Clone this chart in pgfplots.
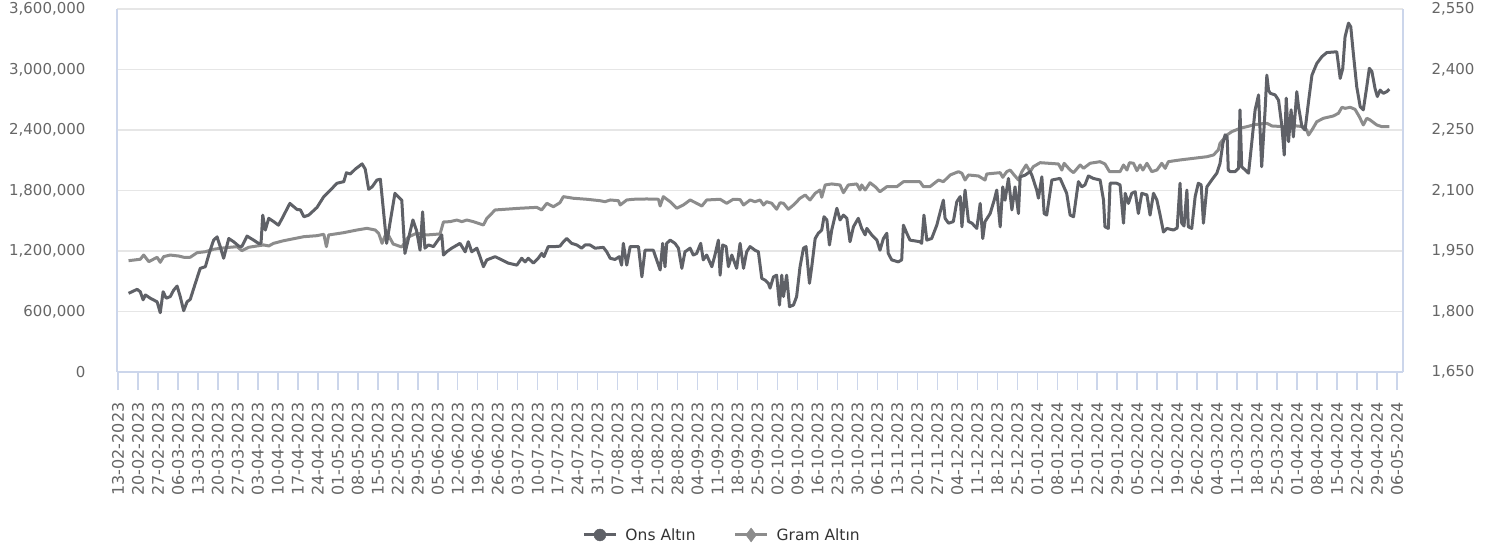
\documentclass[border=0pt]{standalone}
\usepackage{fontspec}
\setmainfont{DejaVu Sans}
\usepackage{pgfplots}
\pgfplotsset{compat=1.18}
\usepackage{pgfplotstable}
\definecolor{onsc}{RGB}{95,97,103}
\definecolor{gramc}{RGB}{140,140,140}
\definecolor{gridc}{RGB}{230,230,230}
\definecolor{axisc}{RGB}{204,214,235}
\definecolor{labc}{RGB}{102,102,102}
\definecolor{legc}{RGB}{51,51,51}

\pgfplotstableread{
day gram
3.7 1104000
7.8 1118000
9.0 1160000
10.8 1094000
13.7 1138000
14.8 1088000
16.0 1144000
18.3 1160000
21.3 1150000
23.0 1138000
25.3 1138000
27.7 1183000
30.6 1193000
33.5 1217000
35.8 1227000
39.3 1237000
41.7 1243000
43.4 1203000
45.8 1237000
51.0 1260000
52.8 1250000
54.5 1276000
58.0 1302000
61.6 1322000
65.1 1342000
69.7 1352000
72.1 1366000
73.0 1243000
73.8 1359000
79.1 1382000
83.7 1408000
87.2 1425000
90.1 1408000
91.3 1376000
92.5 1276000
94.1 1388000
96.4 1269000
99.4 1240000
101.7 1339000
104.6 1376000
108.1 1359000
112.8 1369000
114.0 1488000
116.3 1491000
118.7 1507000
120.4 1491000
122.2 1507000
124.5 1491000
128.0 1458000
129.2 1524000
132.1 1607000
140.8 1624000
146.7 1633000
148.4 1607000
150.2 1673000
152.5 1639000
154.8 1679000
156.0 1739000
159.5 1723000
164.2 1713000
168.8 1699000
170.6 1689000
172.4 1706000
175.3 1699000
175.9 1656000
178.2 1706000
180.5 1713000
185.2 1716000
189.3 1713000
189.9 1646000
191.0 1739000
193.4 1689000
195.7 1624000
198.0 1656000
200.4 1706000
202.7 1673000
204.5 1646000
206.2 1706000
210.9 1713000
213.2 1673000
215.5 1713000
217.9 1710000
219.1 1656000
221.4 1706000
223.1 1689000
224.9 1706000
226.1 1656000
227.2 1689000
229.0 1673000
230.7 1614000
231.9 1679000
233.1 1673000
234.8 1614000
236.6 1656000
238.9 1723000
240.7 1755000
242.4 1706000
244.2 1772000
245.9 1805000
246.5 1733000
247.7 1855000
250.0 1865000
252.9 1855000
254.1 1778000
255.8 1855000
258.8 1865000
259.9 1805000
260.5 1855000
261.7 1805000
263.4 1877000
265.2 1838000
266.9 1788000
269.3 1838000
272.8 1838000
275.1 1887000
280.9 1887000
282.1 1838000
284.4 1838000
287.4 1904000
289.1 1887000
291.5 1954000
294.4 1987000
295.6 1971000
296.7 1904000
297.9 1954000
301.4 1944000
303.7 1904000
304.3 1964000
309.0 1977000
309.9 1931000
311.3 1987000
312.5 2003000
313.6 1964000
315.4 1904000
316.6 1987000
318.1 2053000
319.5 1987000
320.6 2036000
323.0 2076000
329.4 2063000
330.6 2003000
331.4 2070000
333.5 2003000
334.7 1977000
337.0 2053000
338.2 2020000
340.5 2070000
344.0 2086000
345.7 2063000
347.3 1987000
351.0 1987000
352.2 2053000
353.4 2003000
354.3 2076000
355.7 2070000
356.9 1996000
358.0 2053000
359.0 2003000
360.4 2070000
362.1 1987000
363.9 2003000
365.6 2070000
366.8 2020000
367.9 2086000
372.0 2103000
376.7 2119000
381.4 2135000
383.7 2152000
385.4 2202000
386.0 2268000
388.4 2350000
390.1 2383000
393.0 2417000
395.4 2433000
397.7 2450000
400.0 2460000
402.4 2467000
404.2 2440000
408.2 2433000
412.9 2440000
415.2 2433000
416.4 2400000
417.0 2350000
418.2 2400000
419.9 2482000
422.2 2516000
425.7 2539000
427.5 2566000
428.7 2625000
429.8 2615000
431.6 2625000
433.3 2605000
434.8 2532000
436.2 2450000
437.4 2516000
438.6 2499000
440.9 2450000
442.7 2433000
445.3 2433000
}\gramtable

\pgfplotstableread{
day ons
3.7 1845
6.7 1855
7.8 1849
8.8 1829
9.6 1841
11.3 1833
13.7 1824
14.8 1797
15.8 1849
16.9 1833
18.3 1837
19.5 1853
20.7 1863
21.8 1837
23.0 1802
24.2 1824
25.3 1830
27.1 1870
28.8 1907
30.6 1911
32.1 1948
33.5 1977
34.7 1985
35.8 1961
37.0 1932
38.8 1981
40.5 1973
42.3 1962
43.4 1961
45.2 1987
47.5 1977
49.2 1969
50.1 1969
50.7 2039
51.6 2002
52.8 2031
54.5 2023
56.2 2014
57.5 2031
60.2 2068
62.7 2053
63.9 2052
65.1 2035
66.8 2039
69.7 2058
72.1 2085
74.4 2101
76.7 2118
79.1 2122
80.0 2144
81.4 2141
83.1 2153
85.5 2166
86.6 2153
87.8 2103
89.0 2109
90.7 2126
91.9 2128
94.1 1969
97.0 2093
99.4 2076
100.5 1944
103.3 2027
104.6 2000
105.8 1952
106.7 2047
107.5 1957
108.7 1965
110.5 1961
113.4 1990
114.0 1940
115.1 1948
116.9 1957
119.8 1969
121.6 1948
122.7 1973
123.9 1948
125.7 1957
126.8 1936
128.0 1911
129.2 1928
132.1 1936
134.4 1928
136.7 1920
139.7 1915
141.4 1932
142.6 1923
143.7 1932
145.5 1920
147.2 1932
148.4 1944
149.2 1936
150.7 1961
153.1 1961
154.8 1962
155.8 1971
157.2 1981
158.9 1969
160.7 1965
162.4 1957
163.6 1965
165.3 1965
167.1 1957
170.0 1959
171.2 1948
172.4 1932
174.1 1929
175.6 1936
176.4 1915
177.0 1969
178.2 1915
179.4 1961
182.3 1961
183.5 1886
184.6 1952
187.5 1952
189.9 1903
190.8 1969
191.6 1911
192.2 1969
193.4 1977
195.1 1969
196.3 1957
197.5 1907
198.6 1948
200.4 1957
201.5 1940
202.7 1944
204.1 1969
205.0 1928
206.2 1940
208.0 1911
209.1 1940
210.3 1977
210.9 1890
211.8 1965
213.0 1961
213.8 1911
215.0 1940
216.7 1907
217.9 1969
219.1 1907
220.2 1948
221.4 1961
223.1 1952
224.3 1948
225.5 1882
226.6 1878
227.8 1870
228.4 1858
229.6 1886
230.7 1890
231.7 1816
232.5 1890
233.1 1837
234.2 1890
235.2 1812
236.6 1816
237.7 1837
238.9 1911
240.1 1957
241.0 1961
242.2 1870
243.0 1911
244.2 1981
245.3 1994
246.5 2002
247.3 2035
248.3 2027
249.2 1965
250.0 2002
251.8 2056
252.9 2027
254.1 2039
255.3 2031
256.4 1973
257.6 2010
259.3 2031
260.5 2006
261.7 1990
262.3 2006
264.0 1990
265.8 1977
266.9 1952
268.1 1981
269.3 1994
269.8 1944
271.0 1928
273.3 1923
274.5 1928
275.1 2014
276.3 1994
277.4 1977
280.9 1973
281.5 1969
282.3 2039
283.3 1977
285.0 1981
286.8 2014
288.0 2047
289.1 2076
289.7 2031
290.9 2019
292.6 2023
293.8 2072
295.0 2085
295.6 2010
296.7 2101
297.9 2023
299.1 2019
300.8 2006
302.0 2068
302.9 1981
303.7 2023
305.5 2043
306.9 2076
307.8 2101
309.0 2010
309.9 2109
310.7 2076
311.9 2130
313.1 2052
314.2 2109
315.4 2043
316.0 2134
317.7 2138
319.5 2147
320.1 2138
321.8 2101
322.4 2081
323.6 2134
324.4 2043
325.3 2039
327.1 2126
330.0 2130
332.3 2093
333.5 2039
334.7 2035
336.4 2122
337.6 2109
338.7 2114
339.9 2136
341.6 2130
344.0 2126
345.2 2076
345.7 2010
346.9 2006
347.5 2118
349.8 2118
351.0 2114
352.2 2019
352.8 2093
353.9 2068
355.1 2093
356.3 2097
357.4 2043
358.6 2093
360.4 2089
361.5 2039
362.7 2093
363.9 2076
365.0 2040
366.2 1997
367.4 2006
369.7 2002
371.0 2007
372.0 2118
372.6 2019
373.4 2012
374.4 2101
374.9 2010
376.1 2006
377.3 2085
378.4 2118
379.4 2114
380.2 2019
381.4 2109
383.1 2126
384.9 2143
386.0 2167
387.0 2217
387.8 2238
388.5 2233
388.9 2151
389.5 2147
391.3 2147
392.5 2155
393.0 2300
393.6 2159
394.8 2151
396.0 2143
397.1 2217
398.3 2300
399.5 2337
400.6 2159
401.8 2300
402.4 2386
403.0 2349
403.6 2341
405.3 2337
406.5 2324
407.7 2258
408.5 2188
409.2 2329
410.0 2221
410.9 2300
411.7 2233
412.9 2345
413.5 2308
414.7 2258
415.8 2250
417.0 2320
418.2 2386
419.9 2415
421.7 2432
423.4 2442
426.9 2444
428.1 2378
429.0 2403
429.8 2481
431.0 2515
431.8 2506
432.7 2440
433.9 2357
435.1 2308
436.2 2300
437.4 2357
438.3 2403
439.2 2395
440.3 2353
441.1 2333
442.1 2349
443.2 2341
444.4 2345
445.3 2351
}\onstable

\pgfplotsset{
  common/.style={
    scale only axis, width=1286pt, height=363pt,
    at={(117pt,180pt)}, anchor=south west,
    xmin=-0.35, xmax=450.1,
    /pgf/number format/assume math mode=true,
    ticklabel style={font=\fontsize{15}{18}\selectfont, text=labc},
    axis line style={axisc, line width=1.5pt},
  }
}

\begin{document}
\begin{tikzpicture}
\useasboundingbox (0,0) rectangle (1497pt,552pt);
\begin{axis}[common,
  axis y line*=left, axis x line*=bottom,
  ymin=0, ymax=3600000,
  ytick={0,600000,1200000,1800000,2400000,3000000,3600000},
  scaled y ticks=false,
  yticklabel style={/pgf/number format/fixed, /pgf/number format/1000 sep={,}, xshift=-10pt},
  ymajorgrids, grid style={gridc, line width=1.5pt},
  xtick={0,7,...,448},
  xticklabels={13-02-2023,20-02-2023,27-02-2023,06-03-2023,13-03-2023,20-03-2023,27-03-2023,03-04-2023,10-04-2023,17-04-2023,24-04-2023,01-05-2023,08-05-2023,15-05-2023,22-05-2023,29-05-2023,05-06-2023,12-06-2023,19-06-2023,26-06-2023,03-07-2023,10-07-2023,17-07-2023,24-07-2023,31-07-2023,07-08-2023,14-08-2023,21-08-2023,28-08-2023,04-09-2023,11-09-2023,18-09-2023,25-09-2023,02-10-2023,09-10-2023,16-10-2023,23-10-2023,30-10-2023,06-11-2023,13-11-2023,20-11-2023,27-11-2023,04-12-2023,11-12-2023,18-12-2023,25-12-2023,01-01-2024,08-01-2024,15-01-2024,22-01-2024,29-01-2024,05-02-2024,12-02-2024,19-02-2024,26-02-2024,04-03-2024,11-03-2024,18-03-2024,25-03-2024,01-04-2024,08-04-2024,15-04-2024,22-04-2024,29-04-2024,06-05-2024},
  xticklabel style={rotate=90, anchor=east, font=\fontsize{16}{18}\selectfont, xshift=-9pt},
  tick align=outside, major tick length=18pt,
  x tick style={axisc, line width=1.5pt},
  y tick style={draw=none},
]
\addplot[gramc, line width=3pt, line join=round] table[x=day,y=gram]{\gramtable};
\end{axis}
\begin{axis}[common,
  axis y line*=right, hide x axis,
  ymin=1650, ymax=2550,
  ytick={1650,1800,1950,2100,2250,2400,2550},
  yticklabel style={/pgf/number format/fixed, /pgf/number format/1000 sep={,}, xshift=25pt},
  y tick style={draw=none},
  legend columns=2,
  legend style={at={(0.4705,-0.449)}, anchor=center, draw=none, fill=none,
    font=\fontsize{15.5}{18}\selectfont, text=legc,
    /tikz/every odd column/.append style={column sep=6pt},
    /tikz/every even column/.append style={column sep=36pt}},
]
\addplot[onsc, line width=3pt, line join=round,
  legend image code/.code={\draw[onsc, line width=3pt, mark=*, mark size=6pt, mark repeat=2, mark phase=2, mark options={solid, fill=onsc, draw=onsc, line width=0.4pt}] plot coordinates {(0pt,0pt) (16pt,0pt) (32pt,0pt)};}]
  table[x=day,y=ons]{\onstable};
\addlegendimage{gramc, line width=3pt,
  legend image code/.code={\draw[gramc, line width=3pt, mark=diamond*, mark size=7pt, mark repeat=2, mark phase=2, mark options={solid, fill=gramc, draw=gramc, line width=0.4pt}] plot coordinates {(0pt,0pt) (16pt,0pt) (32pt,0pt)};}}
\legend{Ons Altın, Gram Altın}
\end{axis}
\end{tikzpicture}
\end{document}
